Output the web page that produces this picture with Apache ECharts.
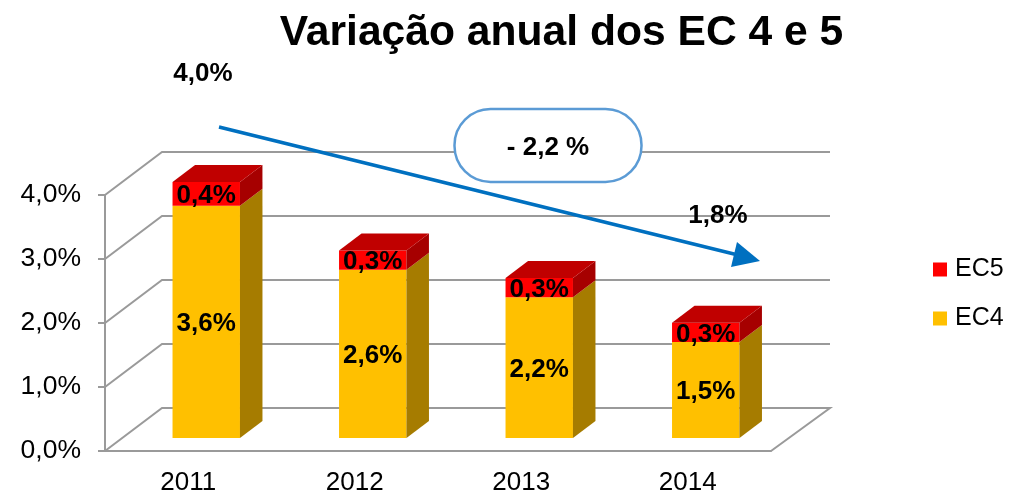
<!DOCTYPE html>
<html>
<head>
<meta charset="utf-8">
<title>Variação anual dos EC 4 e 5</title>
<script src="https://cdn.jsdelivr.net/npm/echarts@6/dist/echarts.min.js"></script>
<style>
  html, body { margin: 0; padding: 0; background: #fff; }
  #chart { width: 1010px; height: 492px; }
</style>
</head>
<body>
<div id="chart"></div>
<script>
const years = ['2011', '2012', '2013', '2014'];
const ec4 = [3.63, 2.63, 2.2, 1.5];
const ec5 = [0.37, 0.3, 0.3, 0.3];
const yTicks = [0, 1, 2, 3, 4];

const font = '"Liberation Sans", Arial, sans-serif';
const gridColor = '#9a9a9a';
// perspective of the fake 3D box, in pixels
const wall = [57, -43];
const wallExtra = 2;
const barShift = [18, -13];
const barDepth = [22.5, -17];
const barRatio = 0.405;

const pct = (v) => v.toFixed(1).replace('.', ',') + '%';

// floor and back wall lines
function renderWall(params, api) {
  const v = api.value(0);
  const left = api.coord([0, v]);
  const bandW = api.size([1, 0])[0];
  const x0 = left[0] - bandW / 2;
  const x1 = x0 + bandW * years.length;
  const y = left[1];
  const points = [[x0, y], [x0 + wall[0], y + wall[1]], [x1 + wall[0] + wallExtra, y + wall[1]]];
  if (v === 0) points.push([x1, y]);
  return {
    type: 'polyline',
    shape: { points: points },
    style: { stroke: gridColor, lineWidth: 2, fill: null }
  };
}

function barRender(front, side, top) {
  return function (params, api) {
    const i = api.value(0);
    const base = api.value(1);
    const val = api.value(2);
    const p0 = api.coord([i, base]);
    const p1 = api.coord([i, base + val]);
    const w = api.size([1, 0])[0] * barRatio;
    const xl = p0[0] + barShift[0] - w / 2;
    const xr = xl + w;
    const yb = p0[1] + barShift[1];
    const yt = p1[1] + barShift[1];
    const children = [
      { type: 'rect', shape: { x: xl, y: yt, width: w, height: yb - yt }, style: { fill: front } },
      {
        type: 'polygon',
        shape: { points: [[xr, yb], [xr, yt], [xr + barDepth[0], yt + barDepth[1]], [xr + barDepth[0], yb + barDepth[1]]] },
        style: { fill: side }
      }
    ];
    if (top) {
      children.push({
        type: 'polygon',
        shape: { points: [[xl, yt], [xr, yt], [xr + barDepth[0], yt + barDepth[1]], [xl + barDepth[0], yt + barDepth[1]]] },
        style: { fill: top }
      });
    }
    children.push({
      type: 'text',
      z2: 10,
      style: {
        x: xl + w / 2,
        y: (yt + yb) / 2 + 2,
        text: pct(val),
        font: 'bold 26px ' + font,
        fill: '#000',
        align: 'center',
        verticalAlign: 'middle'
      }
    });
    return { type: 'group', children: children };
  };
}

const chart = echarts.init(document.getElementById('chart'));
chart.setOption({
  animation: false,
  backgroundColor: '#fff',
  title: {
    text: 'Variação anual dos EC 4 e 5',
    left: 556.5,
    top: 7,
    textAlign: 'center',
    textStyle: { fontFamily: font, fontSize: 42.6, fontWeight: 'bold', color: '#000' }
  },
  legend: {
    data: ['EC5', 'EC4'],
    orient: 'vertical',
    left: 928,
    top: 252,
    icon: 'rect',
    itemWidth: 14,
    itemHeight: 14,
    itemGap: 24,
    selectedMode: false,
    textStyle: { fontFamily: font, fontSize: 25, color: '#000', padding: [0, 0, 0, 3] }
  },
  grid: { left: 105, right: 239, top: 195, bottom: 41, outerBoundsMode: 'none' },
  xAxis: {
    type: 'category',
    data: years,
    axisLine: { lineStyle: { color: gridColor, width: 2 } },
    axisTick: { length: 7, lineStyle: { color: gridColor, width: 2 } },
    axisLabel: { fontFamily: font, fontSize: 26, color: '#000', margin: 19 }
  },
  yAxis: {
    type: 'value',
    min: 0,
    max: 4,
    interval: 1,
    splitLine: { show: false },
    axisLine: { show: true, lineStyle: { color: gridColor, width: 2 } },
    axisTick: { show: true, length: 7, lineStyle: { color: gridColor, width: 2 } },
    axisLabel: { fontFamily: font, fontSize: 26.5, color: '#000', margin: 24, formatter: (v) => pct(v) }
  },
  series: [
    {
      name: 'wall',
      type: 'custom',
      silent: true,
      z: 1,
      clip: false,
      data: yTicks.map((v) => [v]),
      encode: { y: 0 },
      renderItem: renderWall
    },
    {
      name: 'EC4',
      type: 'custom',
      z: 2,
      clip: false,
      itemStyle: { color: '#ffc000' },
      data: ec4.map((v, i) => [i, 0, v]),
      encode: { x: 0, y: 2 },
      renderItem: barRender('#ffc000', '#a67c00', null)
    },
    {
      name: 'EC5',
      type: 'custom',
      z: 3,
      clip: false,
      itemStyle: { color: '#ff0000' },
      data: ec5.map((v, i) => [i, ec4[i], v]),
      encode: { x: 0, y: 2 },
      renderItem: barRender('#ff0000', '#a60000', '#c00000')
    }
  ],
  graphic: [
    {
      type: 'text', z: 20, x: 203, y: 74,
      style: { text: '4,0%', font: 'bold 26px ' + font, fill: '#000', align: 'center', verticalAlign: 'middle' }
    },
    {
      type: 'text', z: 20, x: 718, y: 216,
      style: { text: '1,8%', font: 'bold 26px ' + font, fill: '#000', align: 'center', verticalAlign: 'middle' }
    },
    {
      type: 'line', z: 20,
      shape: { x1: 219, y1: 127, x2: 738, y2: 255 },
      style: { stroke: '#0070c0', lineWidth: 3.5 }
    },
    {
      type: 'polygon', z: 20,
      shape: { points: [[760, 261], [737, 242], [731, 267]] },
      style: { fill: '#0070c0' }
    },
    {
      type: 'rect', z: 21,
      shape: { x: 454.5, y: 109, width: 187, height: 73, r: 36 },
      style: { fill: '#fff', stroke: '#5b9bd5', lineWidth: 2.5 }
    },
    {
      type: 'text', z: 22, x: 548, y: 148,
      style: { text: '- 2,2 %', font: 'bold 26px ' + font, fill: '#000', align: 'center', verticalAlign: 'middle' }
    }
  ]
});
window.addEventListener('resize', () => {
  chart.resize();
});
</script>
</body>
</html>
